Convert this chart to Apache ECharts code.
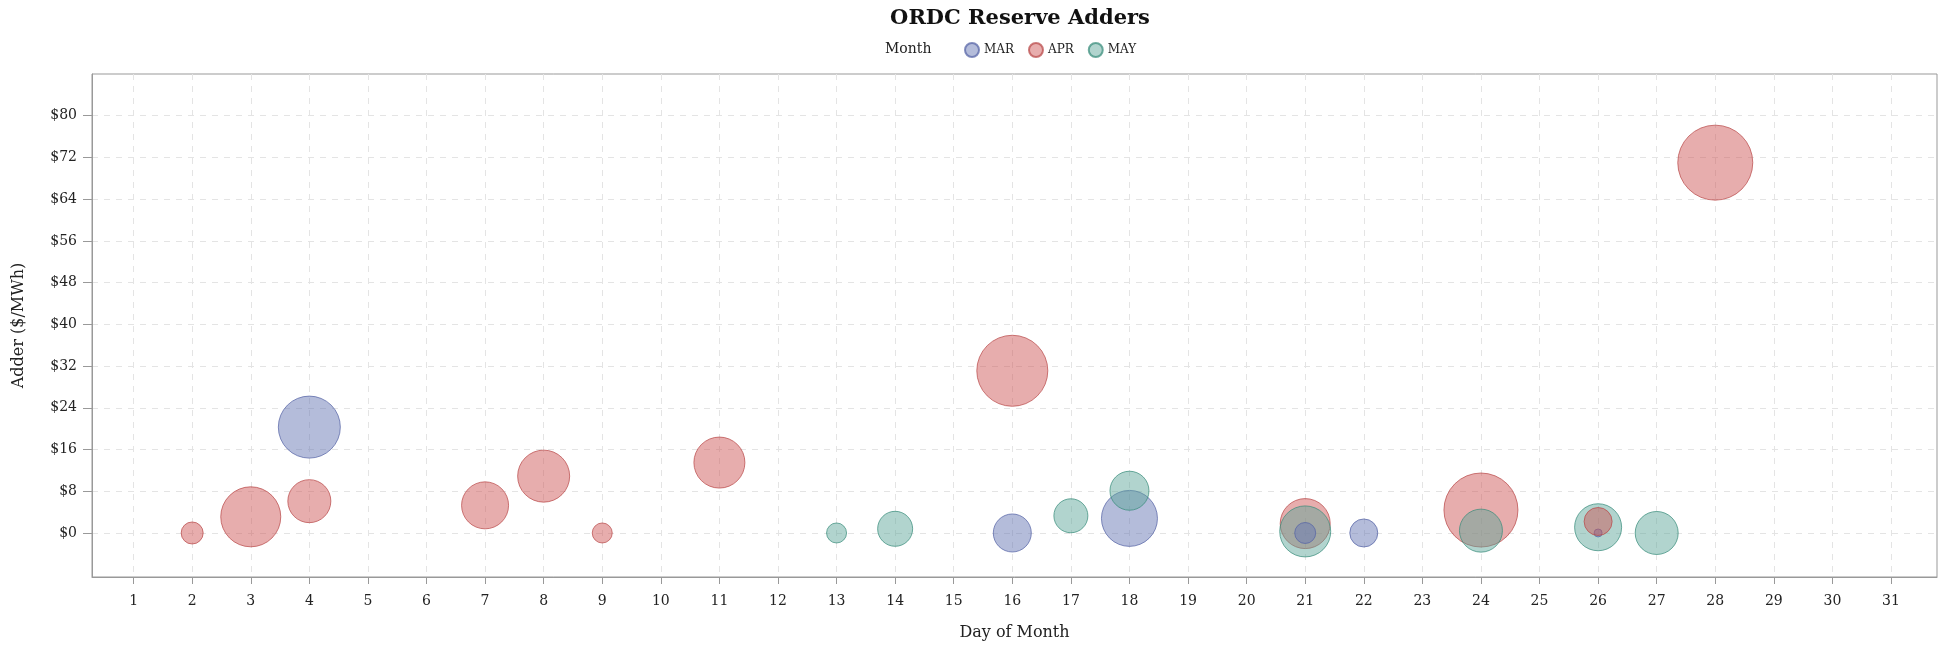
<!DOCTYPE html>
<html><head><meta charset="utf-8">
<script src="https://cdn.jsdelivr.net/npm/echarts@6/dist/echarts.min.js"></script>
<style>html,body{margin:0;padding:0;background:#fff}#c{width:1942px;height:649px}</style>
</head><body><div id="c"></div>
<script>
// ---- data ----
const months = ['MAR', 'APR', 'MAY'];
const marDays   = [4, 16, 18, 21, 22, 26];
const marAdders = [20.3, 0, 2.8, 0, 0, 0];
const marSize   = [62, 38, 56, 21, 28, 8];
const aprDays   = [2, 3, 4, 7, 8, 9, 11, 16, 21, 24, 26, 28];
const aprAdders = [0, 3.1, 6.1, 5.3, 10.9, 0, 13.5, 31.1, 1.8, 4.4, 2.2, 71.0];
const aprSize   = [22, 60, 43, 47, 52, 20, 51, 71, 50, 74, 28, 75];
const mayDays   = [13, 14, 17, 18, 21, 24, 26, 27];
const mayAdders = [0, 0.8, 3.3, 8.1, 0.3, 0.45, 1.1, 0];
const maySize   = [20, 35, 34, 39, 51, 43, 47, 43];
const xTickValues = [1,2,3,4,5,6,7,8,9,10,11,12,13,14,15,16,17,18,19,20,21,22,23,24,25,26,27,28,29,30,31];
const yTickValues = [0, 8, 16, 24, 32, 40, 48, 56, 64, 72, 80];

// ---- styling ----
const FONT = 'DejaVu Serif';
const fills   = {MAR: 'rgba(104,119,180,0.62)', APR: 'rgba(205,84,84,0.6)', MAY: 'rgba(92,166,152,0.6)'};
const borders = {MAR: 'rgba(84,99,165,0.9)', APR: 'rgba(185,72,72,0.9)', MAY: 'rgba(55,140,122,0.9)'};
const monthData = {
  MAR: marDays.map((d, i) => [d, marAdders[i], marSize[i]]),
  APR: aprDays.map((d, i) => [d, aprAdders[i], aprSize[i]]),
  MAY: mayDays.map((d, i) => [d, mayAdders[i], maySize[i]])
};
// big bubbles drawn first, small ones on top
const series = [];
['big', 'small'].forEach(layer => {
  months.forEach(m => {
    series.push({
      name: m,
      type: 'scatter',
      data: monthData[m].filter(p => layer === 'big' ? p[2] >= 45 : p[2] < 45),
      symbol: 'circle',
      symbolSize: v => v[2],
      itemStyle: {color: fills[m], borderColor: borders[m], borderWidth: 1},
      emphasis: {disabled: true}
    });
  });
});

const chart = echarts.init(document.getElementById('c'), null, {renderer: 'canvas'});
chart.setOption({
  animation: false,
  backgroundColor: '#fff',
  title: {
    text: 'ORDC Reserve Adders',
    left: 1015, top: 3, textAlign: 'center',
    textStyle: {fontFamily: FONT, fontSize: 21, fontWeight: 'bold', color: '#111'}
  },
  graphic: [{
    type: 'text', left: 885, top: 42,
    style: {text: 'Month', fontFamily: FONT, fontSize: 14, fill: '#222'}
  }],
  legend: {
    data: months,
    left: 964, top: 42, padding: 0,
    icon: 'circle', itemWidth: 14, itemHeight: 14, itemGap: 14,
    textStyle: {fontFamily: FONT, fontSize: 12, color: '#222'}
  },
  grid: {left: 92, right: 5, top: 74, bottom: 72, show: true, borderColor: '#999', borderWidth: 1, outerBoundsMode: 'none'},
  xAxis: {
    type: 'value', min: 0.29, max: 31.785,
    name: 'Day of Month', nameLocation: 'middle', nameGap: 48,
    nameTextStyle: {fontFamily: FONT, fontSize: 16, color: '#222'},
    axisLine: {show: true, onZero: false, lineStyle: {color: '#999'}},
    axisTick: {show: true, length: 7, customValues: xTickValues, lineStyle: {color: '#999'}},
    axisLabel: {customValues: xTickValues, margin: 17, fontFamily: FONT, fontSize: 14, color: '#222'},
    splitLine: {show: true, lineStyle: {color: '#e4e4e4', type: [6, 6]}}
  },
  yAxis: {
    type: 'value', min: -8.44, max: 88,
    name: 'Adder ($/MWh)', nameLocation: 'middle', nameGap: 65, nameRotate: 90,
    nameTextStyle: {fontFamily: FONT, fontSize: 16, color: '#222'},
    axisLine: {show: true, onZero: false, lineStyle: {color: '#999'}},
    axisTick: {show: true, length: 9, customValues: yTickValues, lineStyle: {color: '#999'}},
    axisLabel: {customValues: yTickValues, margin: 15, fontFamily: FONT, fontSize: 14, color: '#222', formatter: v => '$' + v},
    splitLine: {show: true, lineStyle: {color: '#e4e4e4', type: [6, 6]}}
  },
  series: series
});
</script></body></html>
